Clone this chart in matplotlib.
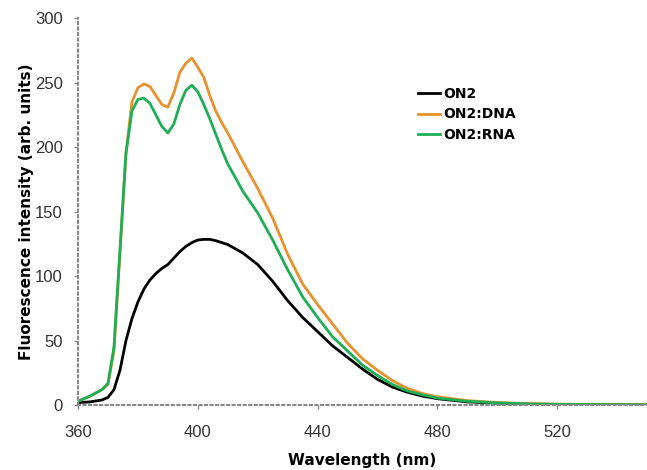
import numpy as np
import matplotlib.pyplot as plt

# wavelength grid (nm) and intensities
wl = [360, 364, 368, 370, 372, 374, 376, 378, 380, 382, 384, 386, 388, 390,
      392, 394, 396, 398, 400, 402, 404, 406, 408, 410, 415, 420, 425, 430,
      435, 440, 445, 450, 455, 460, 465, 470, 475, 480, 490, 500, 510, 520,
      530, 540, 550]

on2 = [2, 2.5, 4, 6, 12, 27, 50, 67, 80, 90, 97, 102, 106, 109,
       114, 119, 123, 126, 128, 128.5, 128.5, 127.5, 126, 124.5, 118, 109, 96, 81,
       68, 57, 46, 37, 28, 20, 14, 10, 7, 5, 2.5, 1.5, 0.8, 0.5,
       0.3, 0.2, 0.1]

on2_dna = [3, 7, 12, 16, 42, 118, 195, 235, 246, 249, 247, 240, 233, 231,
           242, 258, 265, 269, 262, 254, 240, 228, 219, 211, 189, 168, 145, 117,
           94, 78, 63, 48, 36, 27, 19, 13, 9, 6.5, 3.5, 2, 1.2, 0.8,
           0.5, 0.3, 0.2]

on2_rna = [3, 7, 12, 17, 45, 120, 195, 228, 237, 238, 234, 225, 216, 211,
           218, 233, 244, 248, 243, 233, 222, 210, 198, 187, 166, 149, 128, 105,
           84, 68, 53, 42, 31, 23, 16, 11, 8, 5.5, 3, 1.8, 1, 0.6,
           0.4, 0.3, 0.2]

fig = plt.figure(figsize=(6.47, 4.70), dpi=100)
ax = fig.add_axes([0.1206, 0.138, 0.8794, 0.8234])

ax.plot(wl, on2, color='black', lw=2, label='ON2')
ax.plot(wl, on2_dna, color='#e8912f', lw=2, label='ON2:DNA')
ax.plot(wl, on2_rna, color='#1eae55', lw=2, label='ON2:RNA')

ax.set_xlim(360, 550)
ax.set_ylim(0, 300)
ax.set_xticks([360, 400, 440, 480, 520])
ax.set_yticks(np.arange(0, 301, 50))

for s in ['top', 'right']:
    ax.spines[s].set_visible(False)
for s in ['left', 'bottom']:
    ax.spines[s].set_linestyle(':')
    ax.spines[s].set_color('#888888')
    ax.spines[s].set_linewidth(1.5)

ax.tick_params(axis='both', length=3, width=1, color='#888888',
               labelsize=12, labelcolor='#333333')
ax.tick_params(axis='x', pad=11)
ax.tick_params(axis='y', pad=8)
for lab in ax.get_xticklabels() + ax.get_yticklabels():
    lab.set_family('Liberation Sans')

ax.set_xlabel('Wavelength (nm)', fontsize=11, fontweight='bold', labelpad=10)
ax.set_ylabel('Fluorescence intensity (arb. units)', fontsize=11, fontweight='bold')
ax.yaxis.set_label_coords(-0.078, 0.5)

ax.legend(loc='upper left', bbox_to_anchor=(0.576, 0.854), frameon=False,
          handlelength=1.6, handletextpad=0.2, labelspacing=0.45,
          prop={'weight': 'bold', 'size': 10})

fig.savefig('out.png', dpi=100)
